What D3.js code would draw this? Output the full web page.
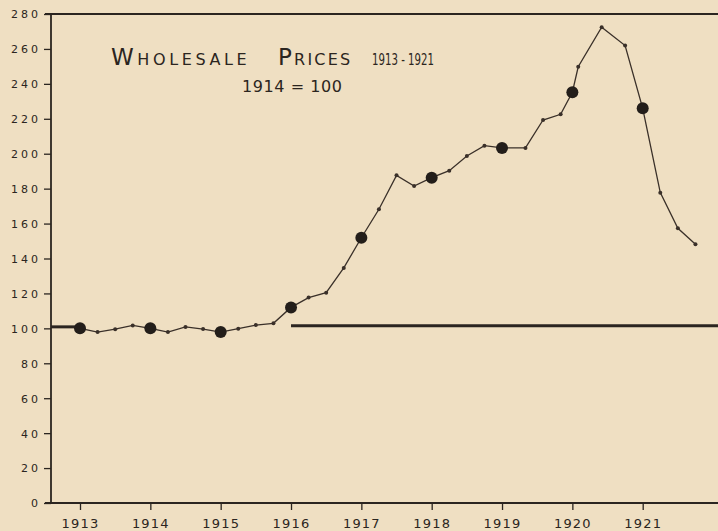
<!DOCTYPE html>
<html>
<head>
<meta charset="utf-8">
<script src="https://cdn.jsdelivr.net/npm/d3@7"></script>
<style>
	html, body { margin: 0; padding: 0; background: #efdfc2; }
	svg { display: block; }
	text { font-family: "DejaVu Sans", sans-serif; fill: #2b2520; }
</style>
</head>
<body>
<svg id="chart" width="718" height="531"></svg>
<script>

// months as "YYYY-MM", index values (1914 = 100)
const months = [
	"1913-01", "1913-04", "1913-07", "1913-10",
	"1914-01", "1914-04", "1914-07", "1914-10",
	"1915-01", "1915-04", "1915-07", "1915-10",
	"1916-01", "1916-04", "1916-07", "1916-10",
	"1917-01", "1917-04", "1917-07", "1917-10",
	"1918-01", "1918-04", "1918-07", "1918-10",
	"1919-01", "1919-05", "1919-08", "1919-11",
	"1920-01", "1920-02", "1920-06", "1920-10",
	"1921-01", "1921-04", "1921-07", "1921-10"
];
const prices = [
	100, 97.9, 99.5, 101.7,
	100, 97.9, 100.8, 99.6,
	97.9, 99.8, 101.9, 102.9,
	112, 117.6, 120.4, 134.6,
	151.9, 168.2, 187.6, 181.5,
	186.3, 190.3, 198.7, 204.6,
	203.3, 203.3, 219.3, 222.6,
	235.2, 249.8, 272.4, 261.9,
	226, 177.7, 157.3, 148.1
];
const yearTicks = [1913, 1914, 1915, 1916, 1917, 1918, 1919, 1920, 1921];
const valueTicks = [0, 20, 40, 60, 80, 100, 120, 140, 160, 180, 200, 220, 240, 260, 280];
const baseValue = 100;

function drawChart() {
	const svg = d3.select('#chart');
	const width = 718;
	const ink = "#2b2520";

	const toYear = (s) => {
		const parts = s.split("-");
		return +parts[0] + (+parts[1] - 1) / 12;
	};
	const data = months.map((m, i) => ({ t: toYear(m), v: prices[i], jan: m.endsWith("-01") }));

	const x = d3.scaleLinear().domain([1913, 1921]).range([80, 642.7]);
	const y = d3.scaleLinear().domain([0, 280]).range([503, 14]);
	const axisX = 51;

	// frame: top rule, left axis, bottom axis
	svg.append("line")
		.attr("x1", 45).attr("x2", width)
		.attr("y1", y(280)).attr("y2", y(280))
		.attr("stroke", ink).attr("stroke-width", 1.8);
	svg.append("line")
		.attr("x1", 45).attr("x2", width)
		.attr("y1", y(0)).attr("y2", y(0))
		.attr("stroke", ink).attr("stroke-width", 1.8);
	svg.append("line")
		.attr("x1", axisX).attr("x2", axisX)
		.attr("y1", y(280)).attr("y2", y(0))
		.attr("stroke", ink).attr("stroke-width", 1.8);

	// y axis ticks + labels
	const yAxis = d3.axisLeft(y).tickValues(valueTicks).tickSize(7).tickPadding(3);
	const gy = svg.append("g").attr("transform", `translate(${axisX},0)`).call(yAxis);
	gy.select(".domain").remove();
	gy.selectAll(".tick line").attr("stroke", ink).attr("stroke-width", 1.3);
	gy.selectAll(".tick text")
		.attr("font-size", 11)
		.attr("letter-spacing", "3px")
		.attr("font-family", "DejaVu Sans, sans-serif")
		.attr("fill", ink)
		.attr("dy", "0.35em");

	// x axis ticks + labels
	const xAxis = d3.axisBottom(x).tickValues(yearTicks).tickFormat(d3.format("d")).tickSize(7).tickPadding(9);
	const gx = svg.append("g").attr("transform", `translate(0,${y(0)})`).call(xAxis);
	gx.select(".domain").remove();
	gx.selectAll(".tick line").attr("stroke", ink).attr("stroke-width", 1.3);
	gx.selectAll(".tick text")
		.attr("font-size", 13)
		.attr("letter-spacing", "1.2px")
		.attr("font-family", "DejaVu Sans, sans-serif")
		.attr("fill", ink);

	// base line at 100
	const first = data[0].t;
	svg.append("line")
		.attr("x1", axisX).attr("x2", x(first))
		.attr("y1", y(baseValue) - 1.5).attr("y2", y(baseValue) - 1.5)
		.attr("stroke", ink).attr("stroke-width", 3);
	svg.append("line")
		.attr("x1", x(1916)).attr("x2", width)
		.attr("y1", y(baseValue) - 2.5).attr("y2", y(baseValue) - 2.5)
		.attr("stroke", ink).attr("stroke-width", 3);

	// price line
	const line = d3.line().x(d => x(d.t)).y(d => y(d.v));
	svg.append("path")
		.datum(data)
		.attr("d", line)
		.attr("fill", "none")
		.attr("stroke", "#3a3029")
		.attr("stroke-width", 1.3);

	svg.selectAll("circle.pt")
		.data(data)
		.enter()
		.append("circle")
		.attr("class", "pt")
		.attr("cx", d => x(d.t))
		.attr("cy", d => y(d.v))
		.attr("r", d => d.jan ? 6 : 2)
		.attr("fill", d => d.jan ? "#231e1a" : "#3a3029");

	// title
	const title = svg.append("g");
	title.append("text")
		.attr("x", 111).attr("y", 65)
		.attr("font-size", 16)
		.attr("letter-spacing", "3.6px")
		.html('<tspan font-size="23">W</tspan>HOLESALE');
	title.append("text")
		.attr("x", 278).attr("y", 65)
		.attr("font-size", 16)
		.attr("letter-spacing", "2.2px")
		.html('<tspan font-size="23">P</tspan>RICES');
	title.append("text")
		.attr("x", 372).attr("y", 65)
		.attr("textLength", 62).attr("lengthAdjust", "spacingAndGlyphs")
		.attr("font-size", 15)
		.text("1913 - 1921");
	title.append("text")
		.attr("x", 242).attr("y", 92)
		.attr("textLength", 100).attr("lengthAdjust", "spacing")
		.attr("font-size", 16)
		.text("1914 = 100");
}

function whenDocumentLoaded(action) {
	if (document.readyState === "loading") {
		document.addEventListener("DOMContentLoaded", action);
	} else {
		action();
	}
}

whenDocumentLoaded(drawChart);
</script>
</body>
</html>
